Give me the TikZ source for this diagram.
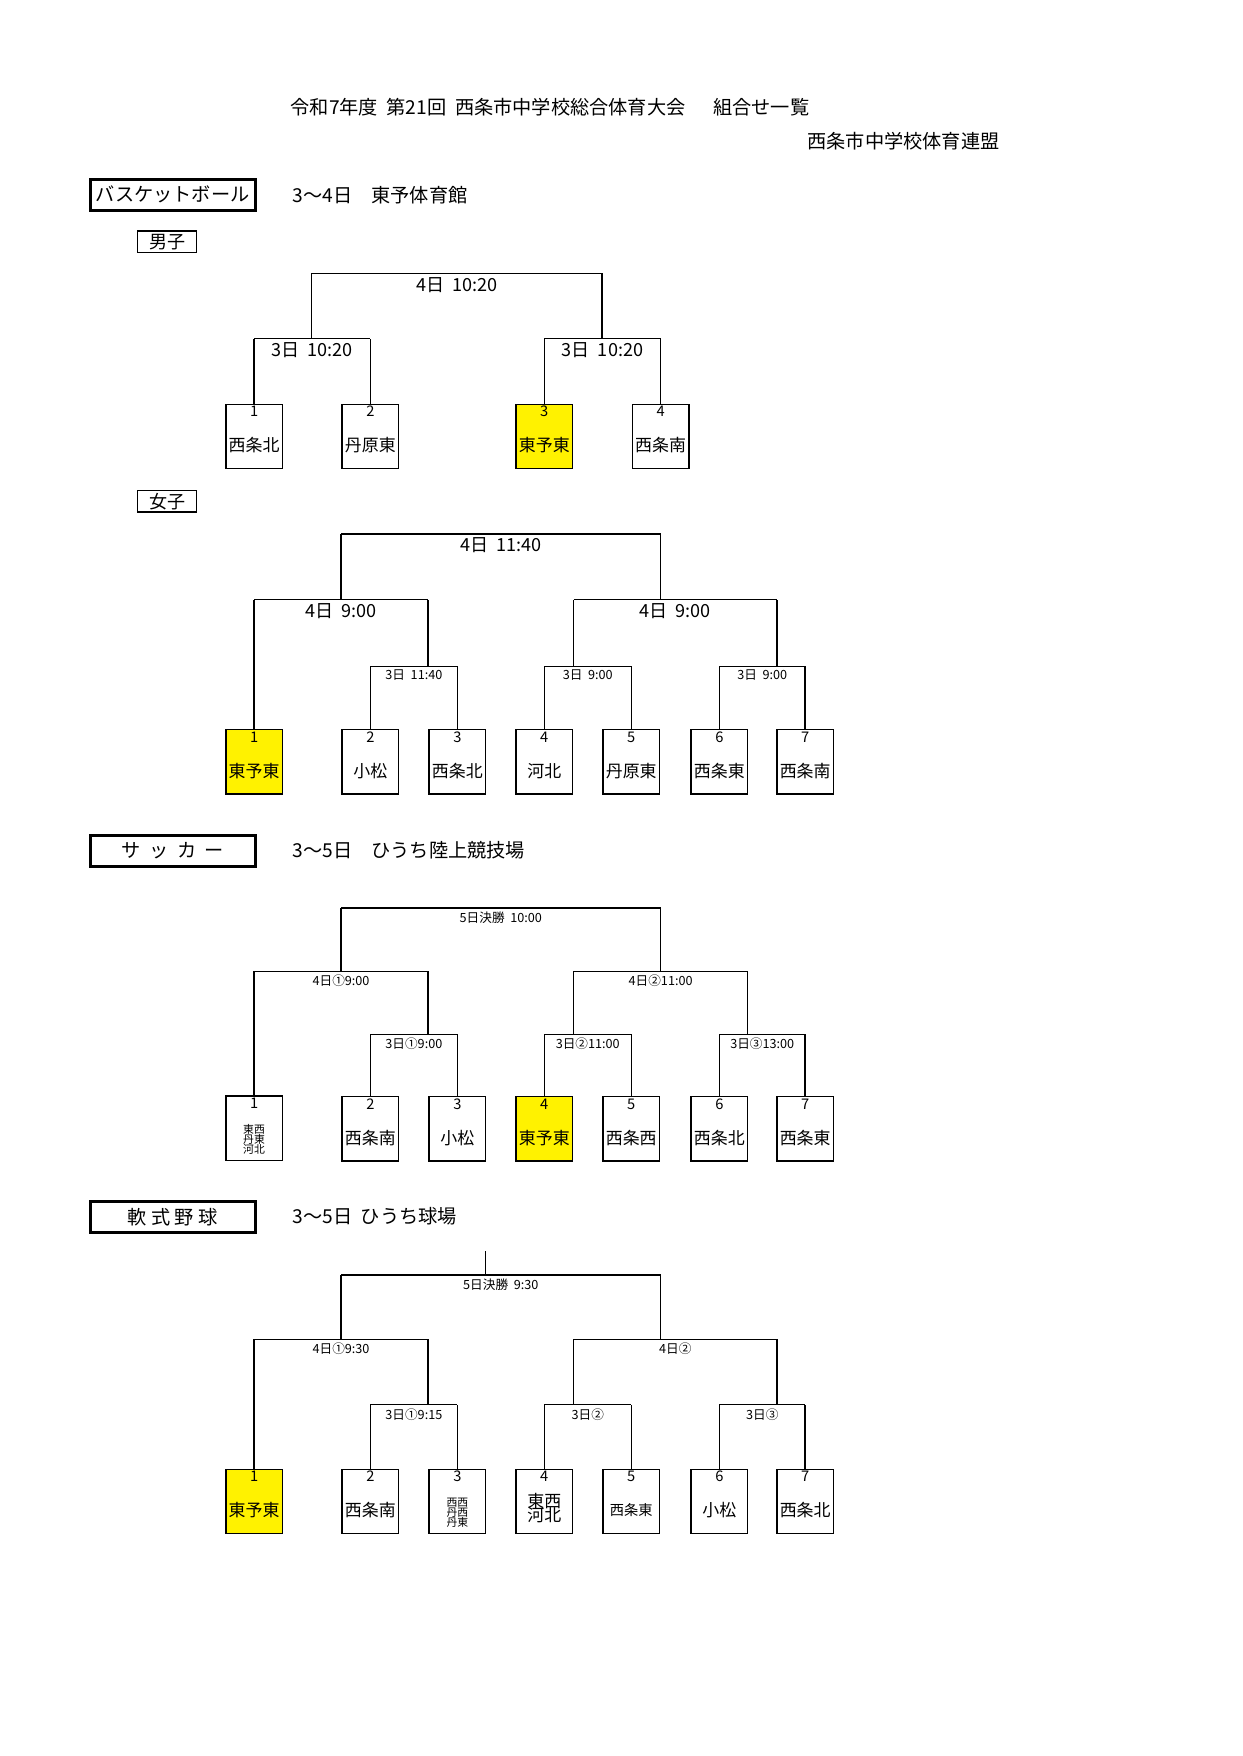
\documentclass[tikz,border=0pt]{standalone}
\usepackage{fontspec}
\setmainfont{Noto Sans CJK JP}
\usetikzlibrary{positioning}

\tikzset{
  team/.style={draw, line width=0.6pt, minimum width=25pt, minimum height=28.5pt, inner sep=0pt},
  sect/.style={draw, line width=1.3pt, minimum width=73pt, minimum height=13.5pt, inner sep=0pt, font=\fontsize{8.5}{9}\selectfont},
  sex/.style={draw, line width=0.6pt, minimum width=26pt, minimum height=9.5pt, inner sep=0pt, font=\fontsize{8}{9}\selectfont},
  bar/.style={line width=0.6pt},
  big/.style={font=\fontsize{8}{9}\selectfont, below, inner sep=1.5pt},
  small/.style={font=\fontsize{5.6}{6}\selectfont, below, inner sep=1.5pt},
  num/.style={font=\fontsize{6.5}{7}\selectfont, below, inner sep=1pt},
  nm/.style={font=\fontsize{7.5}{8}\selectfont},
  tiny/.style={font=\fontsize{4.8}{5.6}\selectfont, align=center}
}

% box: name, x, top y, number, text, fill
\newcommand\teambox[6][white]{%
  \node[team, fill=#1] (#2) at (#3,#4+28.5) {};
  \node[num] at (#2.north) {#5};
  \node[nm] at ([yshift=-4pt]#2.center) {#6};
}
% bar between two x at height y, with label
\newcommand\matchbar[5]{%
  \draw[bar] (#1,#3) -- (#2,#3);
  \node[#5] at ({(#1+#2)/2},#3) {#4};
}

\begin{document}
\begin{tikzpicture}[x=0.5pt, y=-0.5pt]
\useasboundingbox (0,0) rectangle (1100,1555);

\node[font=\fontsize{8.5}{9}\selectfont] (title) at (487,95) {令和7年度\ \ 第21回\ \ 西条市中学校総合体育大会\quad\ \ 組合せ一覧};
\node[font=\fontsize{8.5}{9}\selectfont] (org) at (800,125) {西条市中学校体育連盟};

%% basketball
\node[sect] (bk) at (153,172.5) {バスケットボール};
\node[font=\fontsize{8.5}{9}\selectfont, anchor=west] (bkinfo) at (252,173) {3～4日\quad 東予体育館};
\node[sex] (boys) at (148,214) {男子};

\teambox{m1}{225}{358}{1}{西条北}
\teambox{m2}{328}{358}{2}{丹原東}
\teambox[yellow]{m3}{482}{358}{3}{東予東}
\teambox{m4}{585}{358}{4}{西条南}
\matchbar{225}{328}{300}{3日\ \ 10:20}{big}
\matchbar{482}{585}{300}{3日\ \ 10:20}{big}
\matchbar{276}{533}{242}{4日\ \ 10:20}{big}
\foreach \n/\x in {m1/225,m2/328,m3/482,m4/585}
  \draw[bar] (\n.north) -- (\x,300);
\draw[bar] (276,300) -- (276,242);
\draw[bar] (533,300) -- (533,242);

\node[sex] (girls) at (148,444) {女子};
\teambox[yellow]{g1}{225}{646}{1}{東予東}
\teambox{g2}{328}{646}{2}{小松}
\teambox{g3}{405}{646}{3}{西条北}
\teambox{g4}{482}{646}{4}{河北}
\teambox{g5}{559}{646}{5}{丹原東}
\teambox{g6}{637}{646}{6}{西条東}
\teambox{g7}{713}{646}{7}{西条南}
\matchbar{328}{405}{590}{3日\ \ 11:40}{small}
\matchbar{482}{559}{590}{3日\ \ 9:00}{small}
\matchbar{637}{713}{590}{3日\ \ 9:00}{small}
\matchbar{225}{379}{531}{4日\ \ 9:00}{big}
\matchbar{508}{688}{531}{4日\ \ 9:00}{big}
\matchbar{302}{585}{473}{4日\ \ 11:40}{big}
\foreach \n/\x in {g2/328,g3/405,g4/482,g5/559,g6/637,g7/713}
  \draw[bar] (\n.north) -- (\x,590);
\draw[bar] (g1.north) -- (225,531);
\foreach \x/\a/\b in {379/590/531,508/590/531,688/590/531,302/531/473,585/531/473}
  \draw[bar] (\x,\a) -- (\x,\b);

%% soccer
\node[sect] (sc) at (153,753.5) {サ\ \ ッ\ \ カ\ \ ー};
\node[font=\fontsize{8.5}{9}\selectfont, anchor=west] (scinfo) at (252,753) {3～5日\quad ひうち陸上競技場};
\node[team] (s1) at (225,999) {};
\node[num] at (s1.north) {1};
\node[tiny] at ([yshift=-5pt]s1.center) {東西\\[-1pt]丹東\\[-1pt]河北};
\teambox{s2}{328}{971}{2}{西条南}
\teambox{s3}{405}{971}{3}{小松}
\teambox[yellow]{s4}{482}{971}{4}{東予東}
\teambox{s5}{559}{971}{5}{西条西}
\teambox{s6}{637}{971}{6}{西条北}
\teambox{s7}{713}{971}{7}{西条東}
\matchbar{328}{405}{916}{3日①9:00}{small}
\matchbar{482}{559}{916}{3日②11:00}{small}
\matchbar{637}{713}{916}{3日③13:00}{small}
\matchbar{225}{379}{860}{4日①9:00}{small}
\matchbar{508}{662}{860}{4日②11:00}{small}
\matchbar{302}{585}{804}{5日決勝\ \ 10:00}{small}
\foreach \n/\x in {s2/328,s3/405,s4/482,s5/559,s6/637,s7/713}
  \draw[bar] (\n.north) -- (\x,916);
\draw[bar] (s1.north) -- (225,860);
\foreach \x/\a/\b in {379/916/860,508/916/860,662/916/860,302/860/804,585/860/804}
  \draw[bar] (\x,\a) -- (\x,\b);

%% baseball
\node[sect] (bb) at (153,1077.5) {軟\ 式\ 野\ 球};
\node[font=\fontsize{8.5}{9}\selectfont, anchor=west] (bbinfo) at (252,1077) {3～5日\ \ ひうち球場};
\teambox[yellow]{y1}{225}{1301}{1}{東予東}
\teambox{y2}{328}{1301}{2}{西条南}
\node[team] (y3) at (405,1329.5) {};
\node[num] at (y3.north) {3};
\node[tiny] at ([yshift=-5pt]y3.center) {西西\\[-1pt]丹西\\[-1pt]丹東};
\node[team] (y4) at (482,1329.5) {};
\node[num] at (y4.north) {4};
\node[nm, align=center] at ([yshift=-3pt]y4.center) {東西\\[-2pt]河北};
\node[team] (y5) at (559,1329.5) {};
\node[num] at (y5.north) {5};
\node[font=\fontsize{6.3}{7}\selectfont] at ([yshift=-4pt]y5.center) {西条東};
\teambox{y6}{637}{1301}{6}{小松}
\teambox{y7}{713}{1301}{7}{西条北}
\matchbar{328}{405}{1244}{3日①9:15}{small}
\matchbar{482}{559}{1244}{3日②}{small}
\matchbar{637}{713}{1244}{3日③}{small}
\matchbar{225}{379}{1186}{4日①9:30}{small}
\matchbar{508}{688}{1186}{4日②}{small}
\matchbar{302}{585}{1129}{5日決勝\ \ 9:30}{small}
\foreach \n/\x in {y2/328,y3/405,y4/482,y5/559,y6/637,y7/713}
  \draw[bar] (\n.north) -- (\x,1244);
\draw[bar] (y1.north) -- (225,1186);
\foreach \x/\a/\b in {379/1244/1186,508/1244/1186,688/1244/1186,302/1186/1129,585/1186/1129,430/1129/1108}
  \draw[bar] (\x,\a) -- (\x,\b);

\end{tikzpicture}
\end{document}
